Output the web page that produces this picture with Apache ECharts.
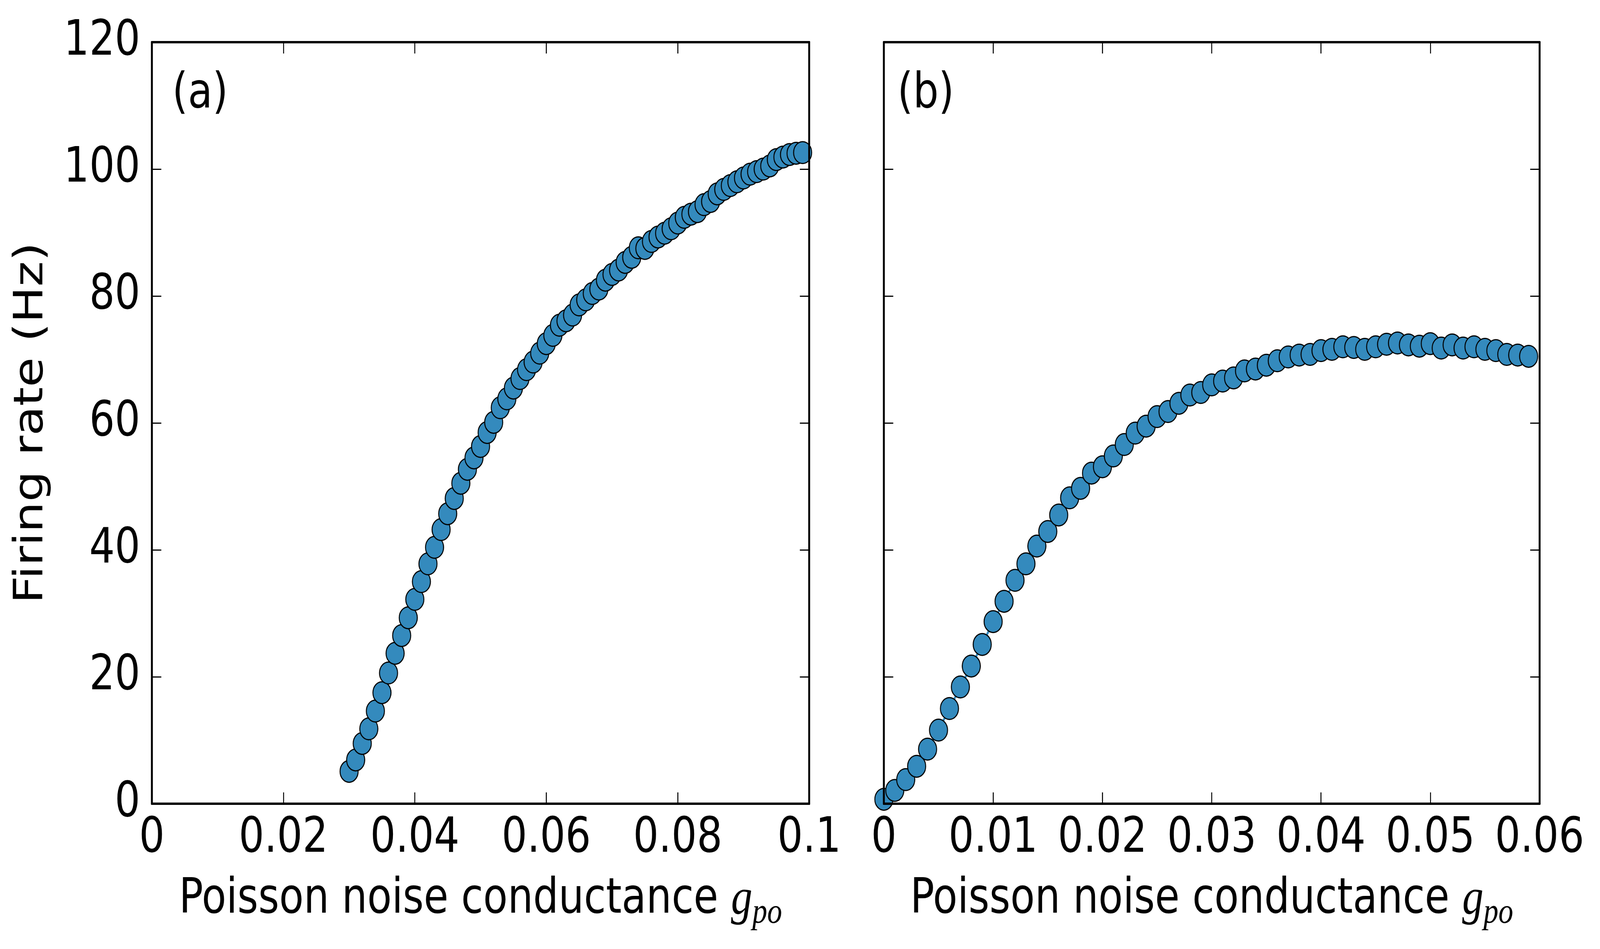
<!DOCTYPE html>
<html>
<head>
<meta charset="utf-8">
<script src="https://cdn.jsdelivr.net/npm/echarts@6/dist/echarts.min.js"></script>
<style>
  html, body { margin: 0; padding: 0; background: #fff; overflow: hidden; }
  #chart { width: 4951px; height: 2430px; transform-origin: 0 0; }
</style>
</head>
<body>
<div id="chart"></div>
<script>
/* panel (a) */
var gpoA = [0.030, 0.031, 0.032, 0.033, 0.034, 0.035, 0.036, 0.037, 0.038, 0.039,
            0.040, 0.041, 0.042, 0.043, 0.044, 0.045, 0.046, 0.047, 0.048, 0.049,
            0.050, 0.051, 0.052, 0.053, 0.054, 0.055, 0.056, 0.057, 0.058, 0.059,
            0.060, 0.061, 0.062, 0.063, 0.064, 0.065, 0.066, 0.067, 0.068, 0.069,
            0.070, 0.071, 0.072, 0.073, 0.074, 0.075, 0.076, 0.077, 0.078, 0.079,
            0.080, 0.081, 0.082, 0.083, 0.084, 0.085, 0.086, 0.087, 0.088, 0.089,
            0.090, 0.091, 0.092, 0.093, 0.094, 0.095, 0.096, 0.097, 0.098, 0.099];
var rateA = [5.1, 6.9, 9.5, 11.8, 14.6, 17.5, 20.6, 23.7, 26.5, 29.3,
             32.2, 35.0, 37.8, 40.4, 43.2, 45.7, 48.1, 50.5, 52.7, 54.5,
             56.3, 58.5, 60.1, 62.4, 63.8, 65.5, 67.0, 68.4, 69.6, 71.0,
             72.5, 73.8, 75.4, 76.1, 77.0, 78.6, 79.4, 80.4, 81.1, 82.5,
             83.4, 84.1, 85.3, 86.1, 87.6, 87.5, 88.6, 89.3, 89.9, 90.6,
             91.5, 92.4, 92.9, 93.3, 94.4, 94.9, 96.1, 96.8, 97.4, 98.0,
             98.6, 99.2, 99.6, 100.0, 100.5, 101.5, 101.9, 102.3, 102.5, 102.6];

/* panel (b) */
var gpoB = [0.000, 0.001, 0.002, 0.003, 0.004, 0.005, 0.006, 0.007, 0.008, 0.009,
            0.010, 0.011, 0.012, 0.013, 0.014, 0.015, 0.016, 0.017, 0.018, 0.019,
            0.020, 0.021, 0.022, 0.023, 0.024, 0.025, 0.026, 0.027, 0.028, 0.029,
            0.030, 0.031, 0.032, 0.033, 0.034, 0.035, 0.036, 0.037, 0.038, 0.039,
            0.040, 0.041, 0.042, 0.043, 0.044, 0.045, 0.046, 0.047, 0.048, 0.049,
            0.050, 0.051, 0.052, 0.053, 0.054, 0.055, 0.056, 0.057, 0.058, 0.059];
var rateB = [0.7, 2.1, 3.8, 5.9, 8.6, 11.6, 15.0, 18.4, 21.7, 25.1,
             28.7, 31.9, 35.2, 37.8, 40.6, 42.9, 45.5, 48.2, 49.7, 52.1,
             53.1, 54.8, 56.6, 58.4, 59.5, 61.0, 61.8, 63.1, 64.4, 64.8,
             66.0, 66.6, 67.1, 68.2, 68.5, 69.1, 69.8, 70.4, 70.7, 70.8,
             71.4, 71.6, 72.0, 71.9, 71.6, 72.0, 72.4, 72.6, 72.3, 72.1,
             72.5, 71.8, 72.3, 71.8, 72.0, 71.6, 71.4, 70.8, 70.7, 70.5];

var xTicksA = [0, 0.1, 0.02];   // min, max, step
var xTicksB = [0, 0.06, 0.01];
var yTicks = [0, 120, 20];
var panelLabels = ['(a)', '(b)'];
var yTitle = 'Firing rate (Hz)';
var xTitle = 'Poisson noise conductance {g|g}{s|po}';

/* the figure is laid out on a 4951 x 2430 sheet, stretched to fill the window
   (the browser window comes out narrower than asked) */
var W = 4951, H = 2430;
var box = document.getElementById('chart');
box.style.transform = 'scale(' + (window.innerWidth / W) + ',' + (window.innerHeight / H) + ')';

var FONT = 'DejaVu Sans';
var FS = 124;
var BLUE = '#348ABD';

function pairs(xs, ys) {
    return xs.map(function (x, i) { return [x, ys[i]]; });
}
function fmtX(v) {
    return String(parseFloat(v.toFixed(3)));
}

var titleRich = {
    g: { fontFamily: 'Liberation Serif', fontStyle: 'italic', fontSize: 132, lineHeight: 160, color: '#000' },
    s: { fontFamily: 'Liberation Serif', fontStyle: 'italic', fontSize: 92, lineHeight: 92, verticalAlign: 'bottom', color: '#000' }
};

function xAxisOf(grid, ticks, bottom) {
    return {
        type: 'value', gridIndex: grid, position: bottom ? 'bottom' : 'top',
        min: ticks[0], max: ticks[1], interval: ticks[2], z: 10,
        axisLine: { show: true, onZero: false, lineStyle: { color: '#000', width: 6 } },
        axisTick: { show: true, inside: true, length: 29, lineStyle: { color: '#000', width: 3 } },
        axisLabel: { show: bottom, margin: 29, fontSize: FS, fontFamily: FONT, color: '#000', formatter: fmtX },
        splitLine: { show: false },
        name: bottom ? xTitle : '', nameLocation: 'middle', nameGap: 167,
        nameTextStyle: { fontSize: FS, fontFamily: FONT, color: '#000', lineHeight: 160, rich: titleRich }
    };
}
function yAxisOf(grid, left, labels) {
    return {
        type: 'value', gridIndex: grid, position: left ? 'left' : 'right',
        min: yTicks[0], max: yTicks[1], interval: yTicks[2], z: 10,
        axisLine: { show: true, onZero: false, lineStyle: { color: '#000', width: 6 } },
        axisTick: { show: true, inside: true, length: 29, lineStyle: { color: '#000', width: 3 } },
        axisLabel: { show: labels, margin: 36, fontSize: FS, fontFamily: FONT, color: '#000' },
        splitLine: { show: false },
        name: labels ? yTitle : '', nameLocation: 'middle', nameGap: 309, nameRotate: 90,
        nameTextStyle: { fontSize: FS, fontFamily: FONT, color: '#000' }
    };
}
function seriesOf(xi, yi, xs, ys) {
    return {
        type: 'line', xAxisIndex: xi, yAxisIndex: yi,
        data: pairs(xs, ys),
        symbol: 'circle', symbolSize: 56, showAllSymbol: true,
        itemStyle: { color: BLUE, borderColor: '#000', borderWidth: 3 },
        lineStyle: { color: BLUE, width: 6 },
        clip: true
    };
}

var myChart = echarts.init(box);
var options = {
    backgroundColor: '#fff',
    animation: false,
    grid: [
        { left: 470, top: 108, width: 2034, height: 1950 },
        { left: 2735, top: 108, width: 2029, height: 1950 }
    ],
    xAxis: [
        xAxisOf(0, xTicksA, true), xAxisOf(0, xTicksA, false),
        xAxisOf(1, xTicksB, true), xAxisOf(1, xTicksB, false)
    ],
    yAxis: [
        yAxisOf(0, true, true), yAxisOf(0, false, false),
        yAxisOf(1, true, false), yAxisOf(1, false, false)
    ],
    series: [
        seriesOf(0, 0, gpoA, rateA),
        seriesOf(2, 2, gpoB, rateB)
    ],
    graphic: [
        { type: 'text', left: 533, top: 181, style: { text: panelLabels[0], fontSize: FS, fontFamily: FONT, fill: '#000' } },
        { type: 'text', left: 2777, top: 181, style: { text: panelLabels[1], fontSize: FS, fontFamily: FONT, fill: '#000' } }
    ]
};
myChart.setOption(options);
</script>
</body>
</html>
